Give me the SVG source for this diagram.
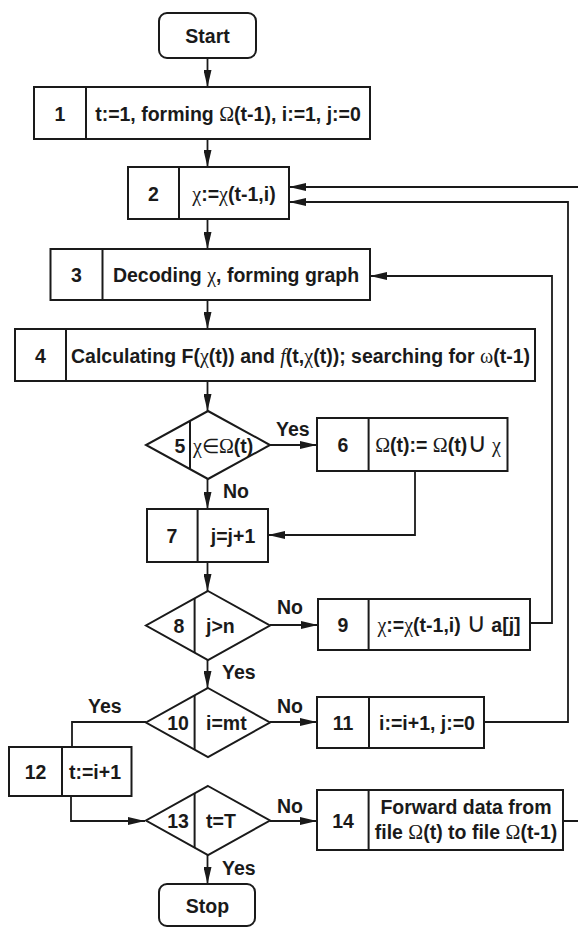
<svg xmlns="http://www.w3.org/2000/svg" width="578" height="927" viewBox="0 0 578 927">
  <style>
    .shape { fill: #ffffff; stroke: #1a1a1a; stroke-width: 2; }
    .div { stroke: #1a1a1a; stroke-width: 2; fill: none; }
    .wire { stroke: #1a1a1a; stroke-width: 1.8; fill: none; }
    .arrow { marker-end: url(#head); }
    text { font-family: "Liberation Sans", Arial, sans-serif; font-weight: bold; font-size: 19.5px; fill: #1a1a1a; }
    .c { text-anchor: middle; }
    .s { text-anchor: start; }
    .sym { font-family: "Liberation Serif", "Times New Roman", serif; font-weight: normal; font-size: 20px; }
    .cup { font-family: "DejaVu Sans", sans-serif; font-weight: normal; font-size: 27px; }
    .it { font-family: "Liberation Serif", "Times New Roman", serif; font-weight: normal; font-style: italic; font-size: 20px; }
  </style>
  <defs>
    <marker id="head" markerUnits="userSpaceOnUse" markerWidth="17" markerHeight="8" refX="17" refY="4" orient="auto">
      <path d="M0,0 L17,4 L0,8 Z" fill="#1a1a1a"/>
    </marker>
  </defs>

  <!-- connectors -->
  <g id="connectors">
    <path class="wire arrow" d="M207.5,58 V87"/>
    <path class="wire arrow" d="M207.5,139 V167"/>
    <path class="wire arrow" d="M207.5,219 V249"/>
    <path class="wire arrow" d="M207.5,300 V329"/>
    <path class="wire arrow" d="M207.5,381 V411"/>
    <path class="wire arrow" d="M270,445 H317"/>
    <path class="wire arrow" d="M207.5,479 V509"/>
    <path class="wire arrow" d="M415,471 V535 H268"/>
    <path class="wire arrow" d="M207.5,562 V591"/>
    <path class="wire arrow" d="M270,625 H318"/>
    <path class="wire arrow" d="M207.5,660 V688"/>
    <path class="wire arrow" d="M530,623 H552 V276 H370"/>
    <path class="wire arrow" d="M270,722 H317"/>
    <path class="wire arrow" d="M484,722 H568 V202 H289"/>
    <path class="wire" d="M146,722 H72 V747"/>
    <path class="wire arrow" d="M71,796 V821 H145"/>
    <path class="wire arrow" d="M270,821 H317"/>
    <path class="wire arrow" d="M207.5,855 V884"/>
    <path class="wire arrow" d="M563,821 H592 V187 H289"/>
    <text class="s" x="276" y="436">Yes</text>
    <text class="s" x="223" y="498">No</text>
    <text class="s" x="277" y="614">No</text>
    <text class="s" x="222" y="679">Yes</text>
    <text class="s" x="277" y="713">No</text>
    <text class="s" x="88" y="713">Yes</text>
    <text class="s" x="277" y="813">No</text>
    <text class="s" x="222" y="875">Yes</text>
  </g>

  <g id="start">
    <rect class="shape" x="159" y="13" width="97" height="45" rx="8"/>
    <text class="c" x="207.5" y="43">Start</text>
  </g>

  <g id="n1">
    <rect class="shape" x="34" y="87" width="336" height="52"/>
    <line class="div" x1="86" y1="87" x2="86" y2="139"/>
    <text class="c" x="60" y="121">1</text>
    <text class="c" x="228" y="121">t:=1, forming <tspan class="sym">Ω</tspan>(t-1), i:=1, j:=0</text>
  </g>

  <g id="n2">
    <rect class="shape" x="128" y="167" width="161" height="52"/>
    <line class="div" x1="179" y1="167" x2="179" y2="219"/>
    <text class="c" x="153.5" y="200.5">2</text>
    <text class="c" x="234" y="200.5"><tspan class="sym">χ</tspan>:=<tspan class="sym">χ</tspan>(t-1,i)</text>
  </g>

  <g id="n3">
    <rect class="shape" x="50.5" y="249" width="319.5" height="51"/>
    <line class="div" x1="102.5" y1="249" x2="102.5" y2="300"/>
    <text class="c" x="76.5" y="282">3</text>
    <text class="c" x="236" y="282">Decoding <tspan class="sym">χ</tspan>, forming graph</text>
  </g>

  <g id="n4">
    <rect class="shape" x="15" y="329" width="520" height="52"/>
    <line class="div" x1="66" y1="329" x2="66" y2="381"/>
    <text class="c" x="40.5" y="362.5">4</text>
    <text class="c" x="300.5" y="362.5">Calculating F(<tspan class="sym">χ</tspan>(t)) and <tspan class="it">f</tspan>(t,<tspan class="sym">χ</tspan>(t)); searching for <tspan class="sym">ω</tspan>(t-1)</text>
  </g>

  <g id="n5">
    <polygon class="shape" points="208,411 270,445 208,479 146,445"/>
    <line class="div" x1="190" y1="421" x2="190" y2="469"/>
    <text class="c" x="180" y="452.5">5</text>
    <text class="s" x="193" y="452.5"><tspan class="sym">χ∈Ω</tspan>(t)</text>
  </g>

  <g id="n6">
    <rect class="shape" x="317" y="418" width="190.5" height="53"/>
    <line class="div" x1="368.6" y1="418" x2="368.6" y2="471"/>
    <text class="c" x="343" y="452">6</text>
    <text class="c" x="438" y="452"><tspan class="sym">Ω</tspan>(t):= <tspan class="sym">Ω</tspan>(t)<tspan class="cup">∪</tspan><tspan class="sym"> χ</tspan></text>
  </g>

  <g id="n7">
    <rect class="shape" x="147" y="509" width="121" height="53"/>
    <line class="div" x1="197.6" y1="509" x2="197.6" y2="562"/>
    <text class="c" x="172" y="543">7</text>
    <text class="c" x="233" y="543">j=j+1</text>
  </g>

  <g id="n8">
    <polygon class="shape" points="208,591 270,625.5 208,660 146,625.5"/>
    <line class="div" x1="194.6" y1="598" x2="194.6" y2="653"/>
    <text class="c" x="179" y="633">8</text>
    <text class="s" x="206" y="633">j&gt;n</text>
  </g>

  <g id="n9">
    <rect class="shape" x="318" y="599" width="212" height="51"/>
    <line class="div" x1="368.6" y1="599" x2="368.6" y2="650"/>
    <text class="c" x="343" y="632">9</text>
    <text class="c" x="449" y="632"><tspan class="sym">χ</tspan>:=<tspan class="sym">χ</tspan>(t-1,i) <tspan class="cup">∪</tspan> a[j]</text>
  </g>

  <g id="n10">
    <polygon class="shape" points="208,688 270,722.5 208,757 146,722.5"/>
    <line class="div" x1="194.6" y1="695" x2="194.6" y2="750"/>
    <text class="c" x="178" y="730">10</text>
    <text class="s" x="206" y="730">i=mt</text>
  </g>

  <g id="n11">
    <rect class="shape" x="317" y="697" width="167" height="51"/>
    <line class="div" x1="369" y1="697" x2="369" y2="748"/>
    <text class="c" x="343" y="730">11</text>
    <text class="c" x="427" y="730">i:=i+1, j:=0</text>
  </g>

  <g id="n12">
    <rect class="shape" x="9" y="747" width="122.5" height="49"/>
    <line class="div" x1="62" y1="747" x2="62" y2="796"/>
    <text class="c" x="35.5" y="779">12</text>
    <text class="c" x="95" y="779">t:=i+1</text>
  </g>

  <g id="n13">
    <polygon class="shape" points="208,786 270,820.5 208,855 146,820.5"/>
    <line class="div" x1="194.6" y1="793" x2="194.6" y2="848"/>
    <text class="c" x="178" y="828">13</text>
    <text class="s" x="206" y="828">t=T</text>
  </g>

  <g id="n14">
    <rect class="shape" x="317" y="790" width="246" height="60"/>
    <line class="div" x1="368.6" y1="790" x2="368.6" y2="850"/>
    <text class="c" x="343" y="828">14</text>
    <text class="c" x="466" y="814">Forward data from</text>
    <text class="c" x="466" y="839">file <tspan class="sym">Ω</tspan>(t) to file <tspan class="sym">Ω</tspan>(t-1)</text>
  </g>

  <g id="stop">
    <rect class="shape" x="159" y="884" width="96" height="42" rx="8"/>
    <text class="c" x="207.5" y="912.5">Stop</text>
  </g>
</svg>
